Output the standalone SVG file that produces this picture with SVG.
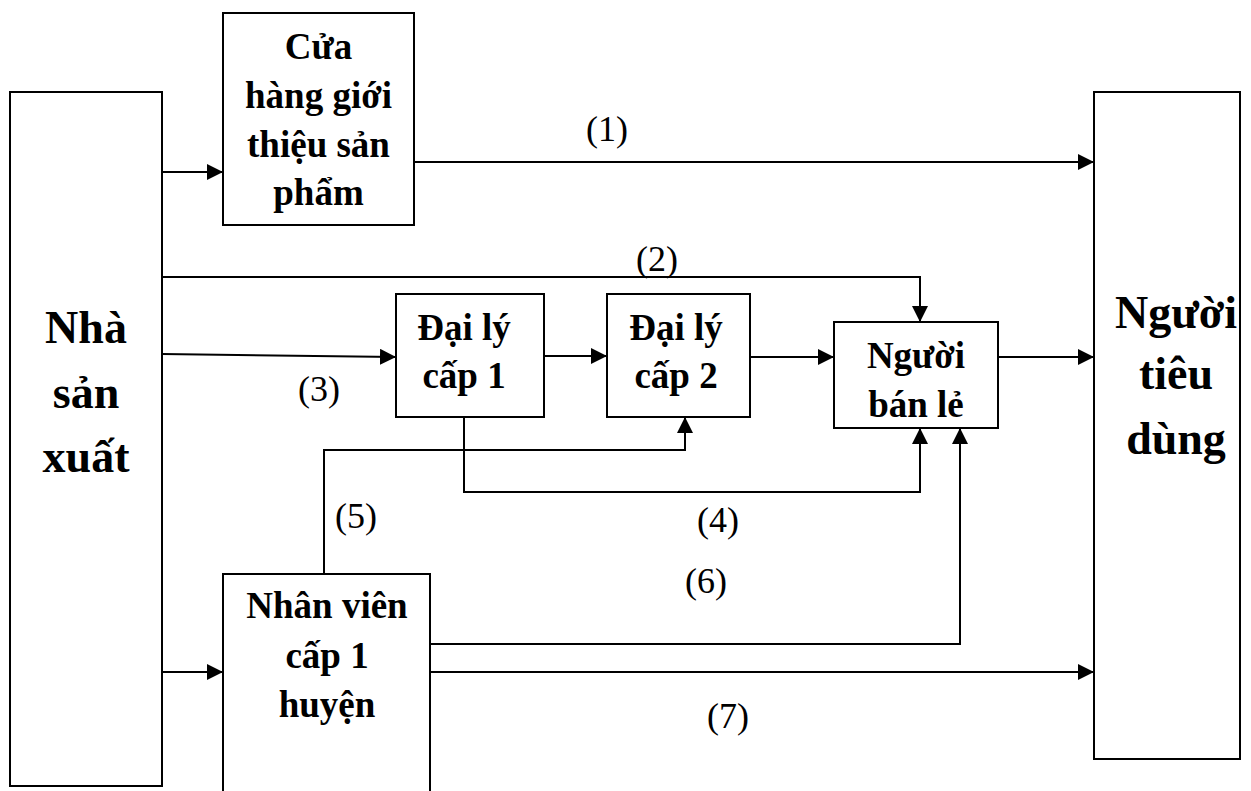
<svg xmlns="http://www.w3.org/2000/svg" width="1251" height="791" viewBox="0 0 1251 791">
  <style>
    .box { fill: #ffffff; stroke: #000000; stroke-width: 2; }
    .edge { fill: none; stroke: #000000; stroke-width: 2; }
    .t { font-family: "Liberation Serif", "Times New Roman", serif; font-weight: bold; font-size: 37px; fill: #000000; text-anchor: middle; }
    .big { font-size: 46px; }
    .lbl { font-family: "Liberation Serif", "Times New Roman", serif; font-size: 36px; fill: #000000; text-anchor: middle; }
  </style>
  <defs>
    <marker id="arrow" markerUnits="userSpaceOnUse" markerWidth="17" markerHeight="17" refX="16" refY="8" orient="auto">
      <path d="M0,0 L16,8 L0,16 z" fill="#000000"/>
    </marker>
  </defs>
  <rect width="1251" height="791" fill="#ffffff"/>

  <!-- nodes -->
  <g id="nha-san-xuat">
    <rect class="box" x="10" y="92" width="152" height="694"/>
    <text class="t big" x="86" y="343">Nhà</text>
    <text class="t big" x="86" y="408">sản</text>
    <text class="t big" x="86" y="472">xuất</text>
  </g>
  <g id="cua-hang">
    <rect class="box" x="223" y="13" width="191" height="212"/>
    <text class="t" x="318.5" y="59">Cửa</text>
    <text class="t" x="318.5" y="108">hàng giới</text>
    <text class="t" x="318.5" y="157">thiệu sản</text>
    <text class="t" x="318.5" y="205">phẩm</text>
  </g>
  <g id="dai-ly-1">
    <rect class="box" x="396" y="294" width="148" height="123"/>
    <text class="t" x="464" y="340">Đại lý</text>
    <text class="t" x="464" y="388">cấp 1</text>
  </g>
  <g id="dai-ly-2">
    <rect class="box" x="607" y="294" width="143" height="123"/>
    <text class="t" x="676" y="340">Đại lý</text>
    <text class="t" x="676" y="388">cấp 2</text>
  </g>
  <g id="nguoi-ban-le">
    <rect class="box" x="834" y="322" width="164" height="106"/>
    <text class="t" x="916" y="368">Người</text>
    <text class="t" x="916" y="417">bán lẻ</text>
  </g>
  <g id="nhan-vien">
    <rect class="box" x="223" y="574" width="207" height="230"/>
    <text class="t" x="327" y="618">Nhân viên</text>
    <text class="t" x="327" y="668">cấp 1</text>
    <text class="t" x="327" y="717">huyện</text>
  </g>
  <g id="nguoi-tieu-dung">
    <rect class="box" x="1094" y="92" width="146" height="667"/>
    <text class="t big" x="1176" y="328">Người</text>
    <text class="t big" x="1176" y="389">tiêu</text>
    <text class="t big" x="1176" y="454">dùng</text>
  </g>

  <!-- connectors -->
  <g id="connectors">
    <path class="edge" d="M162,172 H223" marker-end="url(#arrow)"/>
    <path class="edge" d="M414,162 H1094" marker-end="url(#arrow)"/>
    <path class="edge" d="M162,277 H920 V322" marker-end="url(#arrow)"/>
    <path class="edge" d="M162,354 L396,357" marker-end="url(#arrow)"/>
    <path class="edge" d="M544,356 H607" marker-end="url(#arrow)"/>
    <path class="edge" d="M750,357 H834" marker-end="url(#arrow)"/>
    <path class="edge" d="M998,357 H1094" marker-end="url(#arrow)"/>
    <path class="edge" d="M464,417 V492 H920 V428" marker-end="url(#arrow)"/>
    <path class="edge" d="M324,574 V450 H685 V417" marker-end="url(#arrow)"/>
    <path class="edge" d="M430,644 H960 V428" marker-end="url(#arrow)"/>
    <path class="edge" d="M162,672 H223" marker-end="url(#arrow)"/>
    <path class="edge" d="M430,672 H1094" marker-end="url(#arrow)"/>
  </g>

  <!-- route labels -->
  <g id="labels">
    <text class="lbl" x="607" y="141">(1)</text>
    <text class="lbl" x="657" y="271">(2)</text>
    <text class="lbl" x="319" y="401">(3)</text>
    <text class="lbl" x="718" y="532">(4)</text>
    <text class="lbl" x="356" y="528">(5)</text>
    <text class="lbl" x="706" y="593">(6)</text>
    <text class="lbl" x="728" y="728">(7)</text>
  </g>
</svg>
